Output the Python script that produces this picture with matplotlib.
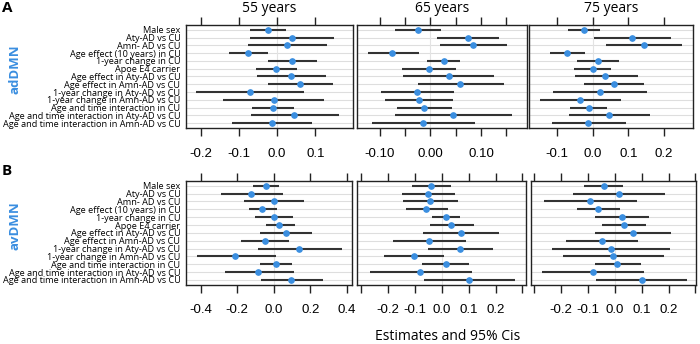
import matplotlib
matplotlib.use("Agg")
import matplotlib.pyplot as plt
import numpy as np

labels = ["Male sex", "Aty-AD vs CU", "Amn- AD vs CU", "Age effect (10 years) in CU",
          "1-year change in CU", "Apoe E4 carrier", "Age effect in Aty-AD vs CU",
          "Age effect in Amn-AD vs CU", "1-year change in Aty-AD vs CU",
          "1-year change in Amn-AD vs CU", "Age and time interaction in CU",
          "Age and time interaction in Aty-AD vs CU",
          "Age and time interaction in Amn-AD vs CU"]
ages = ["55 years", "65 years", "75 years"]

# adDMN (panel A)
a55_est = [-0.025, 0.039, 0.025, -0.075, 0.039, -0.002, 0.037, 0.060, -0.072, -0.008, -0.010, 0.045, -0.013]
a55_lo  = [-0.071, -0.071, -0.077, -0.125, -0.025, -0.054, -0.052, -0.025, -0.212, -0.141, -0.066, -0.069, -0.117]
a55_hi  = [0.024, 0.148, 0.131, -0.023, 0.103, 0.052, 0.127, 0.147, 0.070, 0.123, 0.044, 0.162, 0.091]

a65_est = [-0.024, 0.074, 0.084, -0.075, 0.026, -0.003, 0.036, 0.059, -0.026, -0.023, -0.013, 0.044, -0.014]
a65_lo  = [-0.070, 0.014, 0.019, -0.122, -0.006, -0.055, -0.053, -0.024, -0.098, -0.089, -0.065, -0.069, -0.115]
a65_hi  = [0.022, 0.136, 0.151, -0.023, 0.059, 0.051, 0.126, 0.145, 0.047, 0.045, 0.042, 0.161, 0.089]

a75_est = [-0.023, 0.109, 0.144, -0.072, 0.014, 0.000, 0.036, 0.060, 0.021, -0.036, -0.011, 0.045, -0.013]
a75_lo  = [-0.068, 0.005, 0.037, -0.120, -0.044, -0.051, -0.050, -0.024, -0.110, -0.148, -0.062, -0.066, -0.114]
a75_hi  = [0.022, 0.218, 0.251, -0.021, 0.074, 0.051, 0.126, 0.145, 0.151, 0.079, 0.041, 0.161, 0.092]

# avDMN (panel B)
b55_est = [-0.044, -0.124, 0.000, -0.062, 0.000, 0.031, 0.066, -0.047, 0.141, -0.210, 0.011, -0.084, 0.097]
b55_lo  = [-0.111, -0.290, -0.161, -0.135, -0.100, -0.044, -0.073, -0.181, -0.084, -0.422, -0.075, -0.268, -0.069]
b55_hi  = [0.029, 0.049, 0.168, 0.020, 0.106, 0.115, 0.208, 0.084, 0.376, 0.011, 0.099, 0.110, 0.268]

b65_est = [-0.041, -0.052, -0.042, -0.058, 0.016, 0.035, 0.071, -0.047, 0.068, -0.104, 0.015, -0.081, 0.100]
b65_lo  = [-0.109, -0.146, -0.143, -0.133, -0.035, -0.042, -0.068, -0.180, -0.051, -0.214, -0.073, -0.266, -0.066]
b65_hi  = [0.035, 0.050, 0.062, 0.022, 0.068, 0.119, 0.213, 0.090, 0.190, 0.010, 0.102, 0.112, 0.273]

b75_est = [-0.041, 0.017, -0.093, -0.062, 0.026, 0.035, 0.067, -0.048, -0.015, -0.006, 0.010, -0.081, 0.100]
b75_lo  = [-0.113, -0.154, -0.261, -0.139, -0.072, -0.047, -0.072, -0.180, -0.234, -0.193, -0.074, -0.271, -0.069]
b75_hi  = [0.031, 0.187, 0.084, 0.020, 0.126, 0.115, 0.208, 0.087, 0.206, 0.185, 0.099, 0.109, 0.270]

W, H = 700, 344
fig = plt.figure(figsize=(W / 100, H / 100), dpi=100)

LBL_FONT = ["Open Sans", "DejaVu Sans"]
TICK_FONT = ["Liberation Sans", "DejaVu Sans"]
BLUE = "#3a8ee0"


def px_axes(x0, x1, ytop, ybot):
    return fig.add_axes([x0 / W, 1 - ybot / H, (x1 - x0) / W, (ybot - ytop) / H])


def panel(ax, est, lo, hi, xlim, ticks, ticklabels, show_labels, pad):
    n = len(est)
    y = np.arange(1, n + 1)
    for yy in y:
        ax.axhline(yy, color="#dedede", lw=0.8, zorder=0)
    ax.axvline(0, color="#e3e3e3", lw=0.8, zorder=0)
    ax.hlines(y, lo, hi, color="#333333", lw=1.5, zorder=2)
    ax.plot(est, y, "o", color=BLUE, ms=3.8, mec=BLUE, zorder=3)
    ax.set_xlim(*xlim)
    ax.set_ylim(n + pad, 1 - pad)
    ax.set_xticks(ticks)
    ax.set_xticklabels(ticklabels, fontfamily=TICK_FONT, fontsize=9.5)
    ax.tick_params(axis="x", which="both", direction="out", length=6, width=1.0,
                   top=True, bottom=True, labeltop=False, pad=8, color="#222222")
    ax.set_yticks(y)
    if show_labels:
        ax.set_yticklabels(labels, fontfamily=LBL_FONT, fontsize=6.6)
        ax.tick_params(axis="y", length=0, pad=4)
    else:
        ax.set_yticklabels([])
        ax.tick_params(axis="y", length=0)
    for s in ax.spines.values():
        s.set_linewidth(1.0)
        s.set_color("#222222")


# Panel A
axA = [px_axes(186, 353, 24.7, 128.3), px_axes(357.3, 526.7, 24.7, 128.3),
       px_axes(529, 692.7, 24.7, 128.3)]
panel(axA[0], a55_est, a55_lo, a55_hi, (-0.238, 0.198),
      [-0.2, -0.1, 0.0, 0.1], ["-0.2", "-0.1", "0.0", "0.1"], True, 0.68)
panel(axA[1], a65_est, a65_lo, a65_hi, (-0.144, 0.190),
      [-0.10, -0.05, 0.0, 0.05, 0.10, 0.15], ["-0.10", "", "0.00", "", "0.10", ""], False, 0.68)
panel(axA[2], a75_est, a75_lo, a75_hi, (-0.178, 0.280),
      [-0.1, 0.0, 0.1, 0.2], ["-0.1", "0.0", "0.1", "0.2"], False, 0.68)
for ax, t in zip(axA, ages):
    ax.set_title(t, fontfamily=LBL_FONT, fontsize=10, pad=9)

# Panel B
axB = [px_axes(186, 351.7, 180.7, 285), px_axes(357.3, 525.7, 180.7, 285),
       px_axes(531, 695.7, 180.7, 285)]
panel(axB[0], b55_est, b55_lo, b55_hi, (-0.480, 0.427),
      [-0.4, -0.2, 0.0, 0.2, 0.4], ["-0.4", "-0.2", "0.0", "0.2", "0.4"], True, 0.65)
panel(axB[1], b65_est, b65_lo, b65_hi, (-0.313, 0.312),
      [-0.3, -0.2, -0.1, 0.0, 0.1, 0.2, 0.3], ["", "-0.2", "-0.1", "0.0", "0.1", "0.2", ""], False, 0.65)
panel(axB[2], b75_est, b75_lo, b75_hi, (-0.311, 0.301),
      [-0.3, -0.2, -0.1, 0.0, 0.1, 0.2, 0.3], ["", "-0.2", "-0.1", "0.0", "0.1", "0.2", ""], False, 0.65)

fig.text(7 / W, 1 - 8 / H, "A", fontfamily=LBL_FONT, fontsize=11, fontweight="bold",
         ha="center", va="center")
fig.text(7 / W, 1 - 171 / H, "B", fontfamily=LBL_FONT, fontsize=11, fontweight="bold",
         ha="center", va="center")
fig.text(15.5 / W, 1 - 69.5 / H, "adDMN", fontfamily=LBL_FONT, fontsize=9.5, fontweight="bold",
         color=BLUE, rotation=90, ha="center", va="center")
fig.text(15.5 / W, 1 - 226 / H, "avDMN", fontfamily=LBL_FONT, fontsize=9.5, fontweight="bold",
         color=BLUE, rotation=90, ha="center", va="center")
fig.text(448 / W, 1 - 337 / H, "Estimates and 95% Cis", fontfamily=LBL_FONT, fontsize=10,
         ha="center", va="center")

fig.savefig("out.png", dpi=100, facecolor="white")
